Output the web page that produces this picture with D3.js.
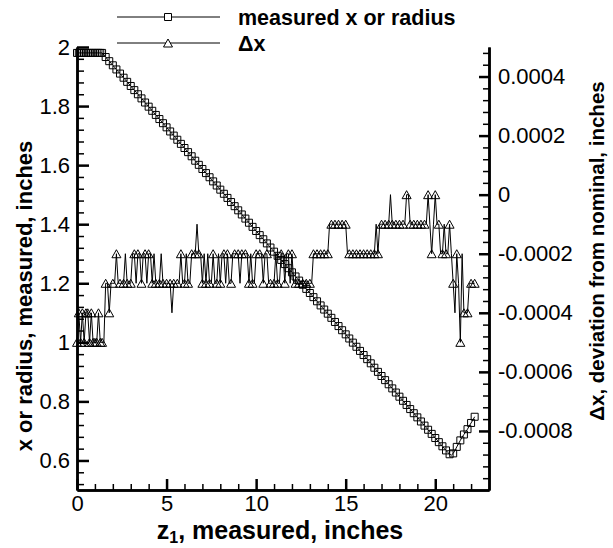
<!DOCTYPE html>
<html><head><meta charset="utf-8">
<script src="https://cdn.jsdelivr.net/npm/d3@7"></script>
<style>body{margin:0;background:#fff}svg{display:block}</style>
</head><body><svg id="c" width="613" height="548"></svg>
<script>
// z1 positions, inches
const z1 = [
0,0.1,0.2,0.3,0.4,0.5,0.6,0.7,0.8,0.9,
1,1.1,1.2,1.3,1.4,1.5,1.6,1.7,1.8,1.9,
2,2.1,2.2,2.3,2.4,2.5,2.6,2.7,2.8,2.9,
3,3.1,3.2,3.3,3.4,3.5,3.6,3.7,3.8,3.9,
4,4.1,4.2,4.3,4.4,4.5,4.6,4.7,4.8,4.9,
5,5.1,5.2,5.3,5.4,5.5,5.6,5.7,5.8,5.9,
6,6.1,6.2,6.3,6.4,6.5,6.6,6.7,6.8,6.9,
7,7.1,7.2,7.3,7.4,7.5,7.6,7.7,7.8,7.9,
8,8.1,8.2,8.3,8.4,8.5,8.6,8.7,8.8,8.9,
9,9.1,9.2,9.3,9.4,9.5,9.6,9.7,9.8,9.9,
10,10.1,10.2,10.3,10.4,10.5,10.6,10.7,10.8,10.9,
11,11.1,11.2,11.3,11.4,11.5,11.6,11.7,11.8,11.9,
12,12.1,12.2,12.3,12.4,12.5,12.6,12.7,12.8,12.9,
13,13.1,13.2,13.3,13.4,13.5,13.6,13.7,13.8,13.9,
14,14.1,14.2,14.3,14.4,14.5,14.6,14.7,14.8,14.9,
15,15.1,15.2,15.3,15.4,15.5,15.6,15.7,15.8,15.9,
16,16.1,16.2,16.3,16.4,16.5,16.6,16.7,16.8,16.9,
17,17.1,17.2,17.3,17.4,17.5,17.6,17.7,17.8,17.9,
18,18.1,18.2,18.3,18.4,18.5,18.6,18.7,18.8,18.9,
19,19.1,19.2,19.3,19.4,19.5,19.6,19.7,19.8,19.9,
20,20.1,20.2,20.3,20.4,20.5,20.6,20.7,20.8,20.9,
21,21.1,21.2,21.3,21.4,21.5,21.6,21.7,21.8,21.9,
22,22.1,22.2];

// measured x or radius, inches
const measuredX = [
1.98,1.98,1.98,1.98,1.98,1.98,1.98,1.98,1.98,1.98,
1.98,1.98,1.98,1.98,1.98,1.973,1.966,1.959,1.952,1.945,
1.938,1.931,1.924,1.917,1.910,1.903,1.896,1.889,1.882,1.875,
1.868,1.861,1.854,1.847,1.840,1.833,1.826,1.819,1.812,1.805,
1.798,1.791,1.784,1.777,1.770,1.763,1.756,1.749,1.742,1.735,
1.728,1.721,1.714,1.707,1.700,1.693,1.686,1.679,1.672,1.665,
1.658,1.651,1.644,1.637,1.630,1.622,1.615,1.608,1.601,1.594,
1.587,1.580,1.573,1.566,1.559,1.552,1.545,1.538,1.531,1.524,
1.517,1.510,1.503,1.496,1.489,1.482,1.475,1.468,1.461,1.454,
1.447,1.440,1.433,1.426,1.419,1.412,1.405,1.398,1.391,1.384,
1.377,1.370,1.363,1.356,1.349,1.342,1.335,1.328,1.321,1.314,
1.307,1.300,1.293,1.286,1.279,1.272,1.265,1.258,1.251,1.244,
1.237,1.230,1.223,1.216,1.209,1.202,1.195,1.188,1.181,1.174,
1.167,1.160,1.153,1.146,1.139,1.132,1.125,1.118,1.111,1.104,
1.097,1.090,1.083,1.076,1.069,1.062,1.055,1.048,1.041,1.034,
1.027,1.020,1.013,1.006,0.999,0.992,0.985,0.978,0.971,0.964,
0.957,0.950,0.943,0.936,0.929,0.921,0.914,0.907,0.900,0.893,
0.886,0.879,0.872,0.865,0.858,0.851,0.844,0.837,0.830,0.823,
0.816,0.809,0.802,0.795,0.788,0.781,0.774,0.767,0.760,0.753,
0.746,0.739,0.732,0.725,0.718,0.711,0.704,0.697,0.690,0.683,
0.676,0.669,0.662,0.655,0.648,0.641,0.634,0.627,0.621,0.618,
0.624,0.634,0.646,0.657,0.668,0.679,0.688,0.697,0.706,0.717,
0.727,0.737,0.748];

// delta x, deviation from nominal, inches
const deltaX = [
-0.0005,-0.0004,-0.0005,-0.0004,-0.0005,-0.0004,-0.0004,-0.0005,-0.0004,-0.0005,
-0.0005,-0.0005,-0.0004,-0.0005,-0.0005,-0.0005,-0.0003,-0.0003,-0.0004,-0.0003,
-0.0003,-0.0003,-0.0002,-0.0003,-0.0003,-0.0003,-0.0003,-0.0002,-0.0003,-0.0003,
-0.0003,-0.0002,-0.0002,-0.0003,-0.0002,-0.0002,-0.0003,-0.0002,-0.0002,-0.0003,
-0.0002,-0.0002,-0.0003,-0.0002,-0.0003,-0.0003,-0.0003,-0.0002,-0.0003,-0.0003,
-0.0003,-0.0003,-0.0003,-0.0004,-0.0003,-0.0003,-0.0003,-0.0003,-0.0002,-0.0003,
-0.0003,-0.0002,-0.0003,-0.0003,-0.0002,-0.0002,-0.0002,-0.0001,-0.0002,-0.0002,
-0.0003,-0.0002,-0.0003,-0.0002,-0.0003,-0.0003,-0.0002,-0.0003,-0.0003,-0.0002,
-0.0003,-0.0002,-0.0002,-0.0003,-0.0002,-0.0003,-0.0003,-0.0002,-0.0002,-0.0002,
-0.0002,-0.0003,-0.0002,-0.0002,-0.0002,-0.0002,-0.0003,-0.0002,-0.0003,-0.0003,
-0.0002,-0.0002,-0.0002,-0.0002,-0.0003,-0.0002,-0.0002,-0.0003,-0.0003,-0.0003,
-0.0003,-0.0002,-0.0003,-0.0003,-0.0002,-0.0002,-0.0003,-0.0002,-0.0002,-0.0003,
-0.0002,-0.0003,-0.0003,-0.0003,-0.0003,-0.0003,-0.0003,-0.0003,-0.0003,-0.0003,
-0.0003,-0.0003,-0.0002,-0.0002,-0.0002,-0.0002,-0.0002,-0.0002,-0.0002,-0.0002,
-0.0002,-0.0001,-0.0001,-0.0001,-0.0001,-0.0001,-0.0001,-0.0001,-0.0001,-0.0001,
-0.0001,-0.0002,-0.0002,-0.0002,-0.0002,-0.0002,-0.0002,-0.0002,-0.0002,-0.0002,
-0.0002,-0.0002,-0.0002,-0.0002,-0.0002,-0.0002,-0.0002,-0.0001,-0.0002,-0.0001,
-0.0001,-0.0001,-0.0001,-0.0001,-0.0001,0,-0.0001,-0.0001,-0.0001,-0.0001,
-0.0001,-0.0001,-0.0001,-0.0001,0,0,-0.0001,-0.0001,-0.0001,-0.0001,
-0.0001,-0.0001,-0.0001,-0.0001,-0.0001,-0.0001,0,-0.0001,-0.0002,-0.0001,
0,-0.0001,-0.0001,-0.0002,-0.0002,-0.0001,-0.0002,-0.0002,-0.0001,-0.0002,
-0.0003,-0.0004,-0.0002,-0.0003,-0.0005,-0.0002,-0.0004,-0.0004,-0.0004,-0.0003,
-0.0003,-0.0003,-0.0003];

const seriesNames = ["measured x or radius", "\u0394x"];
const xTickValues = [0, 5, 10, 15, 20];
const xTickLabels = ["0", "5", "10", "15", "20"];
const leftTickValues = [0.6, 0.8, 1.0, 1.2, 1.4, 1.6, 1.8, 2.0];
const leftTickLabels = ["0.6", "0.8", "1", "1.2", "1.4", "1.6", "1.8", "2"];
const rightTickValues = [-0.0008, -0.0006, -0.0004, -0.0002, 0, 0.0002, 0.0004];
const rightTickLabels = ["-0.0008", "-0.0006", "-0.0004", "-0.0002", "0", "0.0002", "0.0004"];

const FONT = "'Liberation Sans', Arial, Helvetica, sans-serif";
const svg = d3.select("#c");
const L = 77, R = 489, T = 47, B = 490;

const x = d3.scaleLinear().domain([0, 23]).range([L, R]);
const yL = d3.scaleLinear().domain([0.5, 2.0]).range([B, T]);
const yR = d3.scaleLinear().domain([-0.001, 0.0005]).range([B, T]);

const showMarker = i => (i % 2 === 0) || z1[i] < 1.5;

const sqPath = s => `M${-s/2},${-s/2}h${s}v${s}h${-s}Z`;
const triPath = (w, h) => `M0,${-h/2}L${w/2},${h/2}L${-w/2},${h/2}Z`;

// Delta x series
const idx = d3.range(z1.length);
svg.append("path")
  .attr("d", d3.line().x(i => x(z1[i])).y(i => yR(deltaX[i]))(idx))
  .attr("fill", "none").attr("stroke", "#000").attr("stroke-width", 1);
svg.append("g").selectAll("path").data(idx.filter(showMarker)).join("path")
  .attr("transform", i => `translate(${x(z1[i])},${yR(deltaX[i])})`)
  .attr("d", triPath(9, 8))
  .attr("fill", "none").attr("stroke", "#000").attr("stroke-width", 1);

// measured series
svg.append("path")
  .attr("d", d3.line().x(i => x(z1[i])).y(i => yL(measuredX[i]))(idx))
  .attr("fill", "none").attr("stroke", "#000").attr("stroke-width", 1);
svg.append("g").selectAll("path").data(idx.filter(showMarker)).join("path")
  .attr("transform", i => `translate(${x(z1[i])},${yL(measuredX[i])})`)
  .attr("d", sqPath(7))
  .attr("fill", "none").attr("stroke", "#000").attr("stroke-width", 1);

// Axes
function styleAxis(g, major) {
  g.attr("font-family", FONT).attr("font-size", 22);
  g.select(".domain").attr("stroke", "#000").attr("stroke-width", 2.5);
  g.selectAll(".tick line").attr("stroke", "#000").attr("stroke-width", major ? 2.5 : 1.5);
  g.selectAll(".tick text").attr("fill", "#000");
}
const xMinor = d3.range(1, 23).filter(v => v % 5 !== 0);
const lMinor = d3.range(13, 50).filter(i => i % 5 !== 0).map(i => i * 0.04);
const rMinor = d3.range(-24, 13).filter(i => i % 5 !== 0).map(i => i * 0.00004);

svg.append("g").attr("transform", `translate(0,${B})`)
  .call(d3.axisBottom(x).tickValues(xMinor).tickSize(-6).tickSizeOuter(0).tickFormat(""))
  .call(g => styleAxis(g, false));
svg.append("g").attr("transform", `translate(0,${B})`)
  .call(d3.axisBottom(x).tickValues(xTickValues).tickSize(-11).tickSizeOuter(0).tickPadding(5)
    .tickFormat((d, i) => xTickLabels[i]))
  .call(g => styleAxis(g, true));

svg.append("g").attr("transform", `translate(${L},0)`)
  .call(d3.axisLeft(yL).tickValues(lMinor).tickSize(-7).tickSizeOuter(0).tickFormat(""))
  .call(g => styleAxis(g, false));
svg.append("g").attr("transform", `translate(${L},0)`)
  .call(d3.axisLeft(yL).tickValues(leftTickValues).tickSize(-12).tickSizeOuter(0).tickPadding(7)
    .tickFormat((d, i) => leftTickLabels[i]))
  .call(g => styleAxis(g, true));

svg.append("g").attr("transform", `translate(${R},0)`)
  .call(d3.axisRight(yR).tickValues(rMinor).tickSize(-6).tickSizeOuter(0).tickFormat(""))
  .call(g => styleAxis(g, false));
svg.append("g").attr("transform", `translate(${R},0)`)
  .call(d3.axisRight(yR).tickValues(rightTickValues).tickSize(-10).tickSizeOuter(0).tickPadding(9)
    .tickFormat((d, i) => rightTickLabels[i]))
  .call(g => styleAxis(g, true));

// Axis titles
const xt = svg.append("text").attr("x", 280).attr("y", 539)
  .attr("text-anchor", "middle").attr("font-family", FONT).attr("font-weight", "bold").attr("font-size", 25);
xt.append("tspan").text("z");
xt.append("tspan").attr("font-size", 16).attr("dy", 4).text("1");
xt.append("tspan").attr("dy", -4).text(", measured, inches");

svg.append("text").attr("transform", "translate(32,296) rotate(-90)")
  .attr("text-anchor", "middle").attr("font-family", FONT).attr("font-weight", "bold").attr("font-size", 22)
  .text("x or radius, measured, inches");
svg.append("text").attr("transform", "translate(604,251) rotate(-90)")
  .attr("text-anchor", "middle").attr("font-family", FONT).attr("font-weight", "bold").attr("font-size", 20.5)
  .text("\u0394x, deviation from nominal, inches");

// Legend
const legRows = [17, 43];
const lg = svg.append("g");
seriesNames.forEach((name, k) => {
  const y = legRows[k];
  lg.append("line").attr("x1", 117).attr("x2", 220).attr("y1", y).attr("y2", y)
    .attr("stroke", "#000").attr("stroke-width", 1);
  lg.append("path").attr("transform", `translate(168,${y})`)
    .attr("d", k === 0 ? sqPath(7) : triPath(9, 8))
    .attr("fill", "#fff").attr("stroke", "#000").attr("stroke-width", 1);
  lg.append("text").attr("x", 238).attr("y", y + 8)
    .attr("font-family", FONT).attr("font-weight", "bold").attr("font-size", 21.5)
    .text(name);
});
</script></body></html>
